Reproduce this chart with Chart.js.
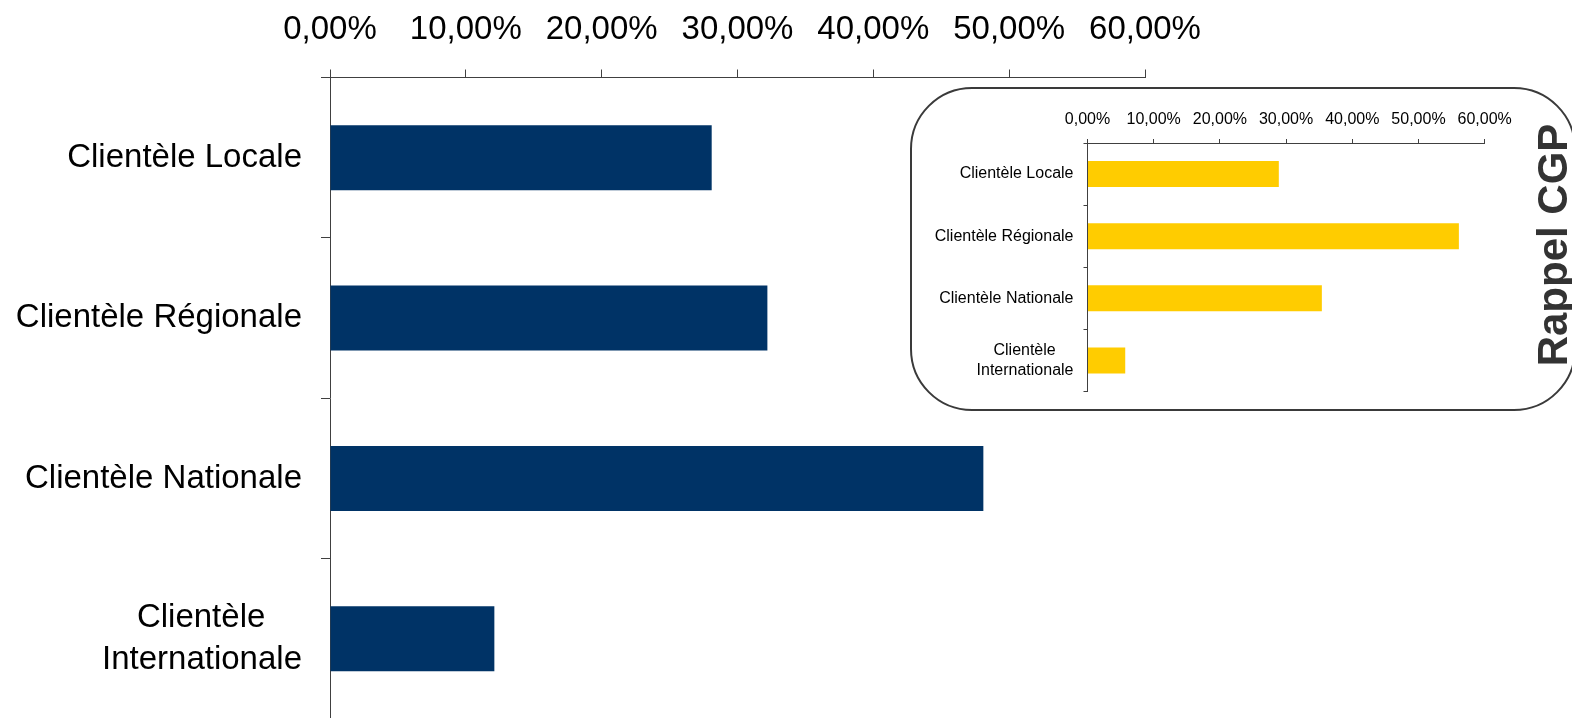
<!DOCTYPE html>
<html>
<head>
<meta charset="utf-8">
<script src="https://cdn.jsdelivr.net/npm/chart.js@4.4.1/dist/chart.umd.min.js"></script>
<style>
  html, body { margin: 0; padding: 0; background: #fff; overflow: hidden; }
  body { width: 1572px; height: 718px; position: relative; }
  #main-wrap { position: absolute; left: 0; top: 0; }
  #inset-box { position: absolute; left: 910px; top: 87px; width: 666px; height: 324px;
    border: 2px solid #3a3a3a; border-radius: 62px; background: #fff; box-sizing: border-box; }
  #inset-wrap { position: absolute; left: 920px; top: 95px; }
  #rappel { position: absolute; left: 1553px; top: 245px; transform: translate(-50%, -50%) rotate(-90deg);
    font: bold 42px "Liberation Sans", Arial, sans-serif; color: #333; white-space: nowrap; }
</style>
</head>
<body>
<div id="main-wrap"><canvas id="main-chart" width="1572" height="719"></canvas></div>
<div id="inset-box"></div>
<div id="inset-wrap"><canvas id="cgp-chart" width="600" height="305"></canvas></div>
<div id="rappel">Rappel CGP</div>

<script>
var categories = ["Clientèle Locale", "Clientèle Régionale", "Clientèle Nationale", ["Clientèle", "Internationale"]];
var mainValues = [28.1, 32.2, 48.1, 12.1];
var cgpValues = [28.9, 56.1, 35.4, 5.7];
var axisMin = 0, axisMax = 60, axisStep = 10;

var FONT = '"Liberation Sans", Arial, sans-serif';
var lineColor = '#404040';

function pctLabel(v) {
  return v.toFixed(2).replace('.', ',') + '%';
}

// pad the shorter lines of a wrapped label so they sit centred over the longest one
function centerLines(lines, size) {
  if (!Array.isArray(lines)) return lines;
  var ctx = document.createElement('canvas').getContext('2d');
  ctx.font = size + 'px ' + FONT;
  var widths = lines.map(function (l) { return ctx.measureText(l).width; });
  var widest = Math.max.apply(null, widths);
  var space = ctx.measureText('\u00a0').width;
  return lines.map(function (l, i) {
    var n = Math.round((widest - widths[i]) / 2 / space);
    return l + '\u00a0'.repeat(n);
  });
}

function barOptions(cfg) {
  return {
    indexAxis: 'y',
    responsive: false,
    animation: false,
    layout: { padding: cfg.padding },
    plugins: { legend: { display: false }, tooltip: { enabled: false } },
    scales: {
      x: {
        position: 'top',
        min: axisMin,
        max: axisMax,
        ticks: {
          stepSize: axisStep,
          color: '#000',
          padding: cfg.xPad,
          font: { family: FONT, size: cfg.xFont },
          callback: function (v) { return pctLabel(v); }
        },
        grid: { drawOnChartArea: false, tickLength: cfg.xTick, color: lineColor },
        border: { color: lineColor, width: 1 },
        afterFit: function (scale) {
          scale.height = cfg.top;
          scale.paddingLeft = 0;
          scale.paddingRight = 0;
        }
      },
      y: {
        ticks: {
          color: '#000',
          padding: cfg.yPad,
          font: { family: FONT, size: cfg.yFont, lineHeight: 1.25 },
          callback: function (v) { return centerLines(this.getLabelForValue(v), cfg.yFont); }
        },
        grid: { drawOnChartArea: false, offset: true, tickLength: cfg.yTick, color: lineColor },
        border: { color: lineColor, width: 1 },
        afterFit: function (scale) {
          scale.width = cfg.left;
          // labels may spill past the ends; keep the bands full height
          scale.paddingTop = 0;
          scale.paddingBottom = 0;
        }
      }
    }
  };
}

new Chart(document.getElementById('main-chart'), {
  type: 'bar',
  data: {
    labels: categories,
    datasets: [{
      data: mainValues,
      backgroundColor: '#003366',
      barPercentage: 0.405,
      categoryPercentage: 1
    }]
  },
  options: barOptions({
    padding: { left: 0, right: 427, top: 0, bottom: 0 },
    top: 77.5, left: 330,
    xFont: 33, xPad: 19.5, xTick: 8,
    yFont: 33, yPad: 19, yTick: 9
  })
});

new Chart(document.getElementById('cgp-chart'), {
  type: 'bar',
  data: {
    labels: categories,
    datasets: [{
      data: cgpValues,
      backgroundColor: '#FFCC00',
      barPercentage: 0.42,
      categoryPercentage: 1
    }]
  },
  options: barOptions({
    padding: { left: 0, right: 35.3, top: 0, bottom: 8.5 },
    top: 48, left: 167.5,
    xFont: 16, xPad: 9.4, xTick: 4,
    yFont: 16, yPad: 10, yTick: 4
  })
});
</script>
</body>
</html>
